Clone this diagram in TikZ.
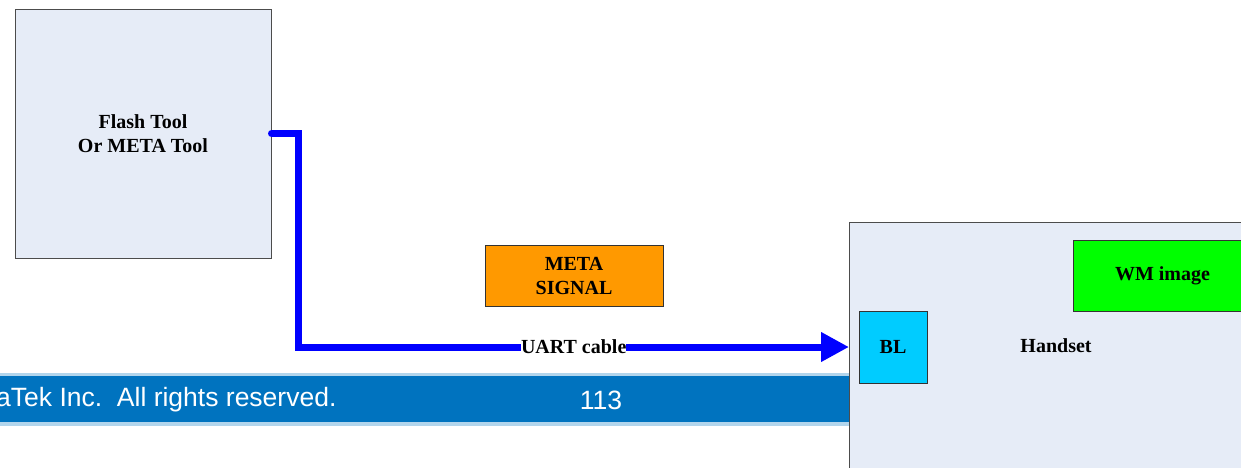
\documentclass[tikz,border=0pt]{standalone}
\usepackage{fontspec}
\setmainfont{Liberation Serif}
\setsansfont{Liberation Sans}
\usetikzlibrary{arrows.meta}
\usetikzlibrary{positioning}
\definecolor{panel}{HTML}{E6ECF7}
\definecolor{cableblue}{HTML}{0000FF}
\definecolor{barblue}{HTML}{0073BF}
\definecolor{metaorange}{HTML}{FF9900}
\definecolor{wmgreen}{HTML}{00FF00}
\definecolor{blcyan}{HTML}{00CCFF}

\begin{document}
\begin{tikzpicture}[x=1pt, y=-1pt, font=\bfseries\fontsize{20}{24}\selectfont,
  main/.style = {draw=black!70, fill=panel, line width=1pt, align=center, inner sep=0pt},
  part/.style = {draw=black!80, line width=1pt, align=center, inner sep=0pt},
  cable/.style = {cableblue, line width=7pt, line cap=round, -{Triangle[length=28pt,width=28pt]}},
  footer/.style = {text=white, inner sep=0pt, font=\sffamily\fontsize{26.5}{30}\selectfont}]
\useasboundingbox (0,0) rectangle (1241,467);
\fill[white] (0,0) rectangle (1241,467);
% footer bar
\fill[barblue!30] (0,373) rectangle (850,426);
\fill[barblue] (0,376) rectangle (850,422);
\node[footer, anchor=west] (copy) at (-4,400) {aTek Inc.\ \ All rights reserved.};
\node[footer] (page) at (601,400) {113};
% boxes
\node[main, minimum width=256pt, minimum height=249pt] (flash) at (143,133.5) {Flash Tool\\Or META Tool};
\node[main, minimum width=420pt, minimum height=260pt, anchor=north west] (handset) at (849,222) {};
\node (hslabel) at (1056,346) {Handset};
\node[part, fill=blcyan, minimum width=68pt, minimum height=72pt] (bl) at (893,347) {BL};
\node[part, fill=wmgreen, minimum width=178pt, minimum height=71pt, anchor=north west] (wm) at (1073,240) {WM image};
\node[part, fill=metaorange, minimum width=178pt, minimum height=61pt] (meta) at (574,275.5) {META\\SIGNAL};
% cable
\draw[cable] (flash.east) -- ++(27,0) |- node[pos=0.75, fill=white, text=black, inner xsep=0pt, inner ysep=1pt] (uart) {UART cable} (handset.west |- bl.center);
\end{tikzpicture}
\end{document}
